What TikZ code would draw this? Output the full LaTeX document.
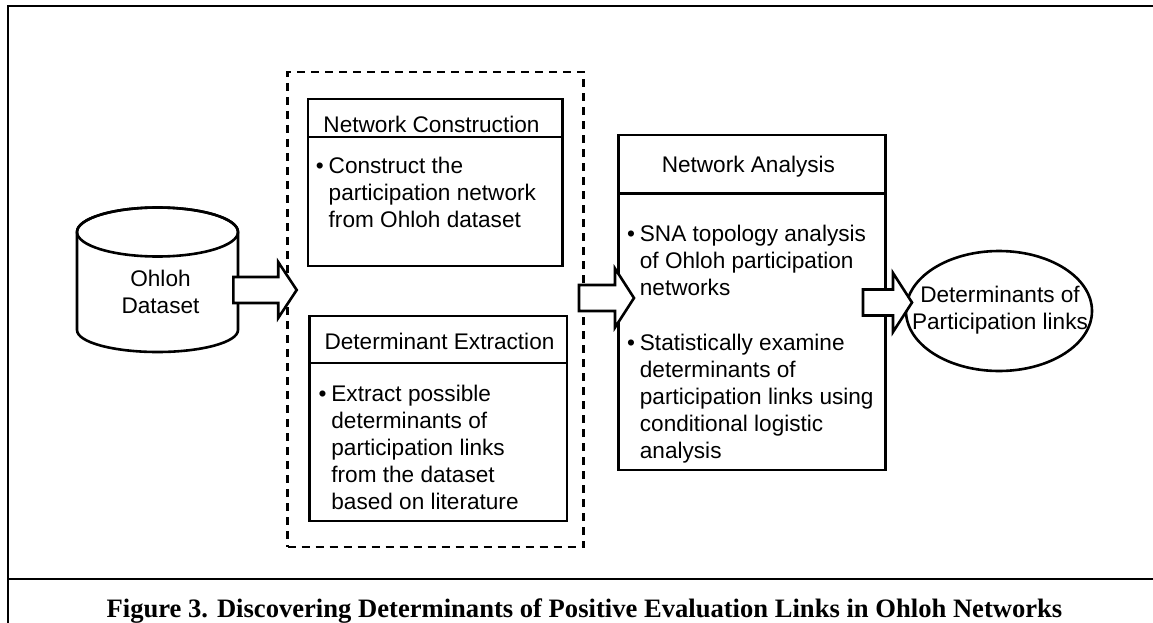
\documentclass[tikz,border=0pt]{standalone}
\usepackage{fontspec}
\setmainfont{Liberation Sans}
\newfontfamily\capfont{Liberation Serif}
\usetikzlibrary{calc,shapes.geometric}
\newcommand{\blist}[1]{\begin{tabular}[t]{@{}l@{\hspace{5pt}}l@{}}•&#1\end{tabular}}
\newcommand{\clist}[1]{\begin{tabular}[t]{@{}c@{}}#1\end{tabular}}
\newcommand{\blockarr}[5]{\draw[barrow] ($(#1)+(0,-#3)$) -- ($(#2)+(-#5,-#3)$) -- ($(#2)+(-#5,-#4)$) -- (#2) -- ($(#2)+(-#5,#4)$) -- ($(#2)+(-#5,#3)$) -- ($(#1)+(0,#3)$) -- cycle;}
\begin{document}
\begin{tikzpicture}[x=1pt,y=-1pt,
  every node/.style={inner sep=0pt, outer sep=0pt},
  txt/.style={font=\fontsize{22.6}{27}\selectfont},
  box/.style={draw, line width=2.6pt, rectangle},
  divider/.style={line width=2.6pt},
  dashbox/.style={draw, line width=2.4pt, dash pattern=on 8pt off 6pt},
  barrow/.style={draw, line width=2.6pt, fill=white, line join=miter},
  frame/.style={line width=2.2pt},
  capstyle/.style={font=\capfont\bfseries\fontsize{26.6}{30}\selectfont}]
\useasboundingbox (0,0) rectangle (1153,623);
\fill[white] (0,0) rectangle (1153,623);
% outer frame and caption separator
\draw[frame] (8,623) -- (8,6) -- (1153,6);
\draw[frame] (8,579) -- (1153,579);

% dashed group
\node[dashbox, minimum width=296pt, minimum height=475pt] (grp) at (435.5,309.5) {};

% Network Construction box
\node[box, minimum width=254.6pt, minimum height=167pt] (nc) at (435.3,182.5) {};
\draw[divider] (nc.west) ++(0,-45.5) -- ++(254.6,0);
\node[txt, anchor=base] (nch) at (431.5,132) {Network Construction};
\node[txt, anchor=base west] (ncb) at (315.8,173) {\blist{Construct the\\ & participation network\\ & from Ohloh dataset}};

% Determinant Extraction box
\node[box, minimum width=257.8pt, minimum height=205pt] (de) at (438.1,418.5) {};
\draw[divider] (de.west) ++(0,-55.5) -- ++(257.8,0);
\node[txt, anchor=base] (deh) at (439.5,349) {Determinant Extraction};
\node[txt, anchor=base west] (deb) at (318.5,401.5) {\blist{Extract possible\\ & determinants of\\ & participation links\\ & from the dataset\\ & based on literature}};

% Network Analysis box
\node[box, minimum width=267pt, minimum height=335pt] (na) at (752,302.5) {};
\draw[divider] (na.west) ++(0,-109) -- ++(267,0);
\node[txt, anchor=base] (nah) at (748.4,172) {Network Analysis};
\node[txt, anchor=base west] (nab1) at (627,241) {\blist{SNA topology analysis\\ & of Ohloh participation\\ & networks}};
\node[txt, anchor=base west] (nab2) at (627,350) {\blist{Statistically examine\\ & determinants of\\ & participation links using\\ & conditional logistic\\ & analysis}};

% Ohloh dataset cylinder
\coordinate (cyl) at (157.5,232);
\draw[line width=2.6pt, fill=white] (77,232) -- (77,330) arc[start angle=180, end angle=360, x radius=80.5pt, y radius=22pt] -- (238,232) arc[start angle=0, end angle=180, x radius=80.5pt, y radius=24.5pt] -- cycle;
\draw[line width=2.6pt] (cyl) ellipse[x radius=80.5pt, y radius=24.5pt];
\node[txt, anchor=base] (cylt) at (160.5,286) {\clist{Ohloh\\Dataset}};

% Determinants ellipse
\node[draw, ellipse, line width=2.6pt, minimum width=186pt, minimum height=120pt] (det) at (999,311) {};

% block arrows
\coordinate (a1s) at (233.3,290);
\coordinate (a1e) at (296.7,290);
\coordinate (a2s) at (579,298);
\coordinate (a2e) at (634,298);
\coordinate (a3s) at (863,302.5);
\coordinate (a3e) at (912,302.5);
\blockarr{a1s}{a1e}{13}{28}{18.5}
\blockarr{a2s}{a2e}{13}{29.5}{19}
\blockarr{a3s}{a3e}{13}{29.5}{19}

\node[txt, anchor=base] (dett) at (1000,302) {\clist{Determinants of\\Participation links}};

% caption
\node[capstyle, anchor=base] (cap) at (584.5,617) {Figure 3. Discovering Determinants of Positive Evaluation Links in Ohloh Networks};
\end{tikzpicture}
\end{document}
